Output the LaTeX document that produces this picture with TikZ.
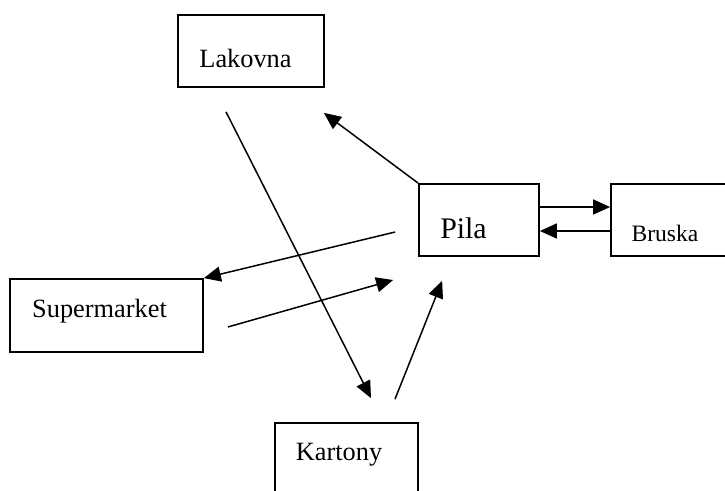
\documentclass[tikz,border=0pt]{standalone}
\usepackage{fontspec}
\setmainfont{Liberation Serif}
\usetikzlibrary{calc}
\usetikzlibrary{arrows.meta}

\begin{document}
\begin{tikzpicture}[x=0.02cm, y=-0.02cm,
    block/.style={draw, line width=1pt, rectangle, inner sep=0pt},
    label text/.style={anchor=base, inner sep=0pt, font=\fontsize{15}{18}\selectfont},
    >={Triangle[length=0.34cm, width=0.3cm]}]
    \clip (0,0) rectangle (725,491);

    \node[block, minimum width=2.92cm, minimum height=1.44cm](lak) at (251,51) {};
    \node[block, minimum width=2.4cm, minimum height=1.44cm](pila) at (479,220) {};
    \node[block, minimum width=2.6cm, minimum height=1.44cm](bruska) at (676,220) {};
    \node[block, minimum width=3.86cm, minimum height=1.46cm](superm) at (106.5,315.5) {};
    \node[block, minimum width=2.86cm, minimum height=1.6cm](kart) at (346.5,463) {};

    \node[label text](lakt) at (245.5,67) {Lakovna};
    \node[label text, font=\fontsize{17}{20}\selectfont](pilat) at (463.5,238) {Pila};
    \node[label text, font=\fontsize{13.4}{16}\selectfont](bruskat) at (665,241) {Bruska};
    \node[label text](supermt) at (99.5,317) {Supermarket};
    \node[label text](kartt) at (339,460) {Kartony};

    \draw[->, line width=0.85pt] (pila.north west) -- ($(lak.south east)+(-1,25)$);
    \draw[->, line width=0.85pt] ($(pila.east)+(0,-13)$) -- ($(bruska.west)+(0,-13)$);
    \draw[->, line width=0.85pt] ($(bruska.west)+(0,11)$) -- ($(pila.east)+(0,11)$);
    \draw[->, line width=0.85pt] ($(pila.west)+(-23,12)$) -- (superm.north east);
    \draw[->, line width=0.85pt] ($(superm.east)+(24,11.5)$) -- ($(pila.west)+(-25,60)$);
    \draw[->, line width=0.85pt] ($(lak.south)+(-25,24)$) -- ($(kart.north)+(24.5,-24)$);
    \draw[->, line width=0.85pt] ($(kart.north)+(48.5,-23)$) -- ($(pila.south west)+(24,24)$);
\end{tikzpicture}
\end{document}
